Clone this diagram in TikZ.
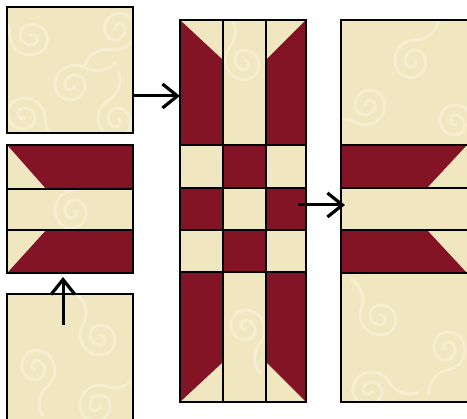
\documentclass[tikz,border=0pt]{standalone}
\usetikzlibrary{arrows.meta}
\definecolor{cream}{RGB}{240,231,192}
\definecolor{curlc}{RGB}{245,238,208}
\definecolor{wine}{RGB}{130,20,38}
\begin{document}
\begin{tikzpicture}[x=1pt,y=-1pt,
  seam/.style={draw=black,line width=1.7pt},
  outline/.style={draw=black,line width=1.9pt,inner sep=0pt,outer sep=0pt,fill=none},
  light/.style={fill=cream},
  dark/.style={fill=wine},
  curlline/.style={draw=curlc,line width=3pt,line cap=round},
  curl/.pic={\draw[curlline] (0,0) arc[start angle=0,end angle=180,radius=5]
      arc[start angle=180,end angle=360,radius=10]
      arc[start angle=0,end angle=180,radius=15]
      arc[start angle=180,end angle=300,radius=20]
      arc[start angle=120,end angle=40,radius=24];},
  arr/.style={line width=3pt,-{Straight Barb[length=15pt,width=24pt,line width=3.2pt]}}]
\useasboundingbox (0,0) rectangle (467,419);
% ---- top-left plain square
\fill[light] (7,7) rectangle (133,133);
\begin{scope}
\clip (7,7) rectangle (133,133);
\pic at (75,85) {curl};
\pic[rotate=120] at (30,35) {curl};
\pic[rotate=200] at (115,30) {curl};
\pic[rotate=60] at (118,118) {curl};
\pic[rotate=300] at (25,118) {curl};
\end{scope}
\node[outline,minimum width=126pt,minimum height=126pt] (sq1) at (70,70) {};
% ---- left striped block
\fill[dark] (7,145) rectangle (133,189);
\fill[light] (7,145) -- (7,189) -- (46,189) -- cycle;
\fill[light] (7,189) rectangle (133,230);
\begin{scope}
\clip (7,189) rectangle (133,230);
\pic[rotate=40] at (75,210) {curl};
\end{scope}
\fill[dark] (7,230) rectangle (133,273);
\fill[light] (7,230) -- (46,230) -- (7,273) -- cycle;
\draw[seam] (7,189) -- (133,189) (7,230) -- (133,230);
\node[outline,minimum width=126pt,minimum height=128pt] (blk2) at (70,209) {};
% ---- bottom-left plain square
\fill[light] (7,294) rectangle (133,430);
\begin{scope}
\clip (7,294) rectangle (133,430);
\pic[rotate=90] at (100,335) {curl};
\pic[rotate=250] at (35,370) {curl};
\pic[rotate=10] at (100,405) {curl};
\end{scope}
\node[outline,minimum width=126pt,minimum height=136pt] (sq3) at (70,362) {};
% ---- middle column
\fill[light] (180,20) rectangle (306,402);
\begin{scope}
\clip (223,20) rectangle (266,145) (223,272) rectangle (266,402);
\pic[rotate=80] at (245,60) {curl};
\pic[rotate=260] at (245,330) {curl};
\end{scope}
\fill[dark] (180,20) -- (223,60) -- (223,145) -- (180,145) -- cycle;
\fill[dark] (306,20) -- (266,60) -- (266,145) -- (306,145) -- cycle;
\fill[dark] (223,145) rectangle (266,188);
\fill[dark] (180,188) rectangle (223,230);
\fill[dark] (266,188) rectangle (306,230);
\fill[dark] (223,230) rectangle (266,272);
\fill[dark] (180,272) -- (223,272) -- (223,362) -- (180,402) -- cycle;
\fill[dark] (266,272) -- (306,272) -- (306,402) -- (266,362) -- cycle;
\draw[seam] (223,20) -- (223,402) (266,20) -- (266,402);
\draw[seam] (180,145) -- (306,145) (180,188) -- (306,188)
            (180,230) -- (306,230) (180,272) -- (306,272);
\node[outline,minimum width=126pt,minimum height=382pt] (mid) at (243,211) {};
% ---- right block
\fill[light] (341,20) rectangle (475,402);
\begin{scope}
\clip (341,20) rectangle (475,145) (341,273) rectangle (475,402);
\pic[rotate=30] at (415,60) {curl};
\pic[rotate=180] at (365,105) {curl};
\pic[rotate=270] at (455,125) {curl};
\pic[rotate=100] at (380,315) {curl};
\pic[rotate=220] at (445,350) {curl};
\pic[rotate=330] at (372,392) {curl};
\end{scope}
\fill[dark] (341,145) -- (467,145) -- (427,188) -- (341,188) -- cycle;
\fill[dark] (341,230) -- (427,230) -- (467,273) -- (341,273) -- cycle;
\draw[seam] (341,145) -- (475,145) (341,188) -- (475,188)
            (341,230) -- (475,230) (341,273) -- (475,273);
\node[outline,minimum width=134pt,minimum height=382pt] (rgt) at (408,211) {};
% ---- arrows
\coordinate (a1) at (133,96);
\draw[arr] (a1) -- (a1 -| mid.west);
\coordinate (a2s) at (63,325);
\coordinate (a2e) at (63,277);
\draw[arr] (a2s) -- (a2e);
\coordinate (a3s) at (298,205);
\coordinate (a3e) at (345,205);
\draw[arr] (a3s) -- (a3e);
\end{tikzpicture}
\end{document}
